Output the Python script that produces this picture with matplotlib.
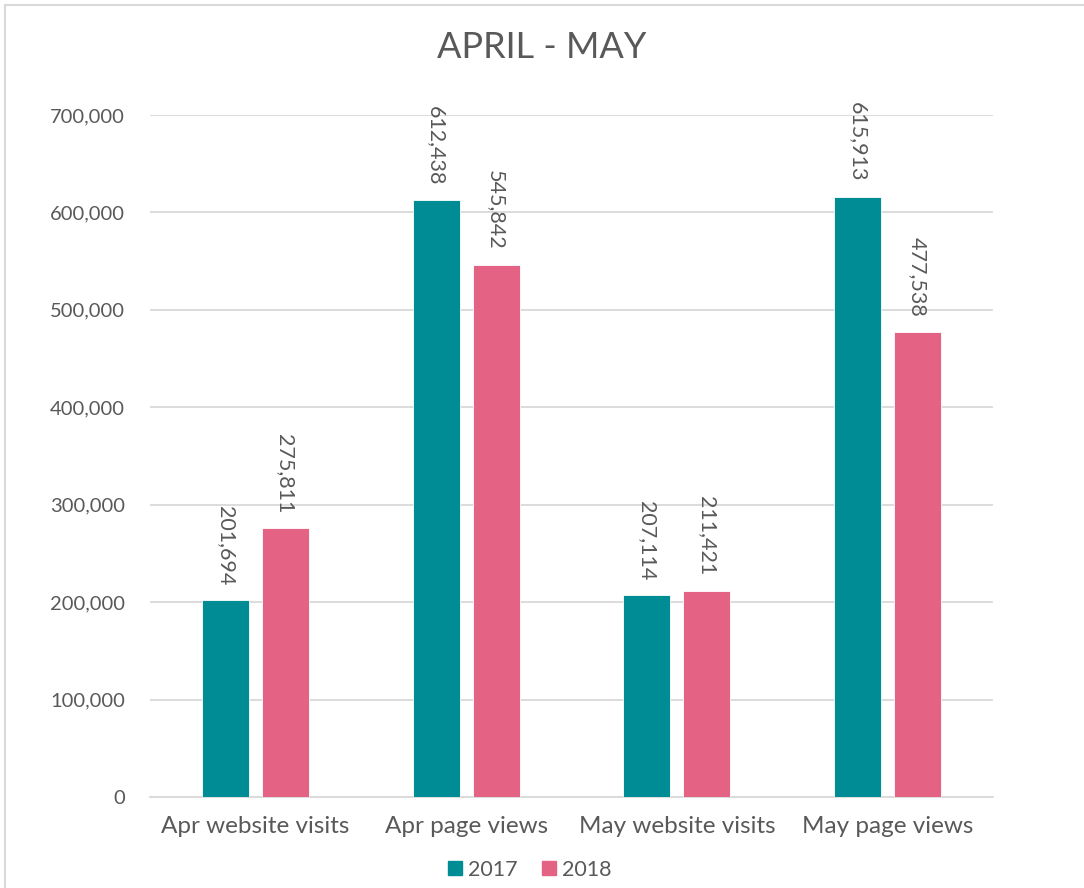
import matplotlib
matplotlib.use("Agg")
import matplotlib.pyplot as plt
import matplotlib.lines as mlines
import numpy as np

plt.rcParams["font.family"] = ["Lato", "DejaVu Sans"]

categories = ["Apr website visits", "Apr page views", "May website visits", "May page views"]
series_names = ["2017", "2018"]
values_2017 = [201694, 612438, 207114, 615913]
values_2018 = [275811, 545842, 211421, 477538]
yticks = [0, 100000, 200000, 300000, 400000, 500000, 600000, 700000]

TEAL = "#008C95"
PINK = "#E46283"
TXT = "#595959"

fig = plt.figure(figsize=(10.84, 8.88), dpi=100)
fig.patch.set_facecolor("white")
ax = fig.add_axes([150 / 1084, 1 - 797 / 888, 843 / 1084, 682 / 888])

x = np.arange(len(categories))
w = 0.223
off = 0.142
b1 = ax.bar(x - off, values_2017, w, color=TEAL, edgecolor="white", linewidth=0.6, zorder=3)
b2 = ax.bar(x + off, values_2018, w, color=PINK, edgecolor="white", linewidth=0.6, zorder=3)

for bars, vals in ((b1, values_2017), (b2, values_2018)):
    for bar, v in zip(bars, vals):
        ax.annotate(f"{v:,}", (bar.get_x() + bar.get_width() / 2, v),
                    xytext=(0, 11), textcoords="offset points",
                    rotation=270, ha="center", va="bottom",
                    fontsize=15.5, color=TXT)

ax.set_xlim(-0.5, len(categories) - 0.5)
ax.set_ylim(0, 700000)
ax.set_yticks(yticks)
ax.set_yticklabels([f"{t:,}" for t in yticks])
ax.set_xticks(x)
ax.set_xticklabels(categories)
ax.tick_params(axis="y", length=0, pad=18, labelsize=14.5, labelcolor=TXT)
ax.tick_params(axis="x", length=0, pad=14, labelsize=17.5, labelcolor=TXT)
ax.grid(axis="y", color="#D9D9D9", linewidth=1.3, zorder=0)
for s in ["top", "right", "left"]:
    ax.spines[s].set_visible(False)
ax.spines["bottom"].set_color("#D9D9D9")
ax.spines["bottom"].set_linewidth(1.3)

fig.text(0.5, 1 - 48 / 888, "APRIL - MAY", ha="center", va="center",
         fontsize=26, color=TXT)

handles = [mlines.Line2D([], [], marker="s", linestyle="none", markersize=10,
                         color=c, label=n) for c, n in zip([TEAL, PINK], series_names)]
fig.legend(handles=handles, loc="center", bbox_to_anchor=(0.487, 1 - 870 / 888),
           ncol=2, frameon=False, fontsize=15.5, labelcolor=TXT,
           handletextpad=0.1, columnspacing=1.0, handlelength=1.0)

# chart border (left and top edges visible)
fig.add_artist(mlines.Line2D([5 / 1084, 5 / 1084], [0, 1 - 5 / 888],
                             transform=fig.transFigure, color="#D9D9D9", lw=1.5))
fig.add_artist(mlines.Line2D([5 / 1084, 1], [1 - 5 / 888, 1 - 5 / 888],
                             transform=fig.transFigure, color="#D9D9D9", lw=1.5))

fig.savefig("out.png", dpi=100)
